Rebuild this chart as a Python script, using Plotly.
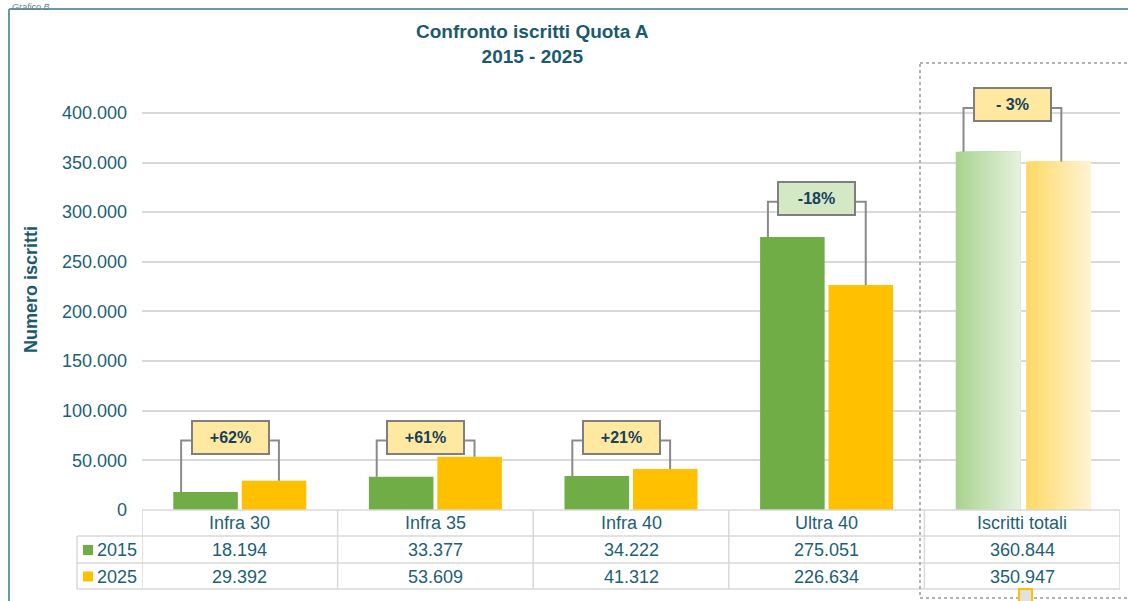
import plotly.graph_objects as go

# dati
categorie = ["Infra 30", "Infra 35", "Infra 40", "Ultra 40", "Iscritti totali"]
anni = ["2015", "2025"]
iscritti_2015 = [18194, 33377, 34222, 275051, 360844]
iscritti_2025 = [29392, 53609, 41312, 226634, 350947]
variazioni = ["+62%", "+61%", "+21%", "-18%", "- 3%"]
tick_y = [0, 50000, 100000, 150000, 200000, 250000, 300000, 350000, 400000]

VERDE = "#70ad47"
GIALLO = "#ffc000"
TESTO = "#215f76"
GRIGIO = "#d9d9d9"

# area del grafico in pixel
L, R, T, B = 142, 1120, 93, 510


def fx(p):
    return (p - L) / (R - L)


def fy(p):
    return (B - p) / (B - T)


def fmt(v):
    return f"{v:,}".replace(",", ".")


def mix(c1, c2, t):
    a = [int(c1[i:i + 2], 16) for i in (1, 3, 5)]
    b = [int(c2[i:i + 2], 16) for i in (1, 3, 5)]
    return "rgb(%d,%d,%d)" % tuple(round(a[j] + (b[j] - a[j]) * t) for j in range(3))


pos = list(range(len(categorie)))
w = 0.33
fig = go.Figure()

# barre "normali"
fig.add_trace(go.Bar(x=pos[:-1], y=iscritti_2015[:-1], width=w, offset=-w - 0.01,
                     marker=dict(color=VERDE, line=dict(width=0)), name=anni[0]))
fig.add_trace(go.Bar(x=pos[:-1], y=iscritti_2025[:-1], width=w, offset=0.01,
                     marker=dict(color=GIALLO, line=dict(width=0)), name=anni[1]))

# totali con sfumatura (strisce sovrapposte)
n = 20
for k in range(n):
    t = k / (n - 1)
    fig.add_trace(go.Bar(x=[pos[-1]], y=[iscritti_2015[-1]], width=[w * (1 - k / n)],
                         offset=[-w - 0.01 + w * k / n],
                         marker=dict(color=mix("#a9d490", "#e4f0dc", t), line=dict(width=0))))
    fig.add_trace(go.Bar(x=[pos[-1]], y=[iscritti_2025[-1]], width=[w * (1 - k / n)],
                         offset=[0.02 + w * k / n],
                         marker=dict(color=mix("#ffd966", "#fff3d1", t), line=dict(width=0))))

annotations = []
shapes = []

# parentesi con variazione percentuale
box_colori = ["#ffe8a0", "#ffe8a0", "#ffe8a0", "#d3e9c5", "#ffe8a0"]
for i in pos:
    a, b = iscritti_2015[i], iscritti_2025[i]
    livello = max(70000, max(a, b) * 1.1 + 8000)
    xl, xr = i - 0.30, i + 0.20
    fig.add_trace(go.Scatter(x=[xl, xl, xr, xr], y=[a, livello, livello, b], mode="lines",
                             line=dict(color="#8a8a8a", width=2), hoverinfo="skip"))
    annotations.append(dict(x=(xl + xr) / 2, y=livello + 3000, xref="x", yref="y",
                            text="<b>%s</b>" % variazioni[i], showarrow=False,
                            font=dict(family="Arial", size=16, color="#17405e"),
                            bgcolor=box_colori[i], bordercolor="#7f7f7f", borderwidth=2,
                            width=73, height=29, xanchor="center", yanchor="middle"))

# tabella dati sotto il grafico
righe = [510, 536, 563, 589]
for r in righe:
    shapes.append(dict(type="line", xref="paper", yref="paper", x0=fx(77 if r > 510 else L), x1=1,
                       y0=fy(r), y1=fy(r), line=dict(color=GRIGIO, width=1.5)))
for c in range(len(categorie) + 1):
    shapes.append(dict(type="line", xref="x", yref="paper", x0=c - 0.5, x1=c - 0.5,
                       y0=fy(510), y1=fy(589), line=dict(color=GRIGIO, width=1.5)))
shapes.append(dict(type="line", xref="paper", yref="paper", x0=fx(77), x1=fx(77),
                   y0=fy(536), y1=fy(589), line=dict(color=GRIGIO, width=1.5)))

font_tab = dict(family="Arial", size=18, color=TESTO)
for i in pos:
    annotations.append(dict(x=i, y=fy(523), xref="x", yref="paper", text=categorie[i],
                            showarrow=False, font=font_tab, yanchor="middle"))
    annotations.append(dict(x=i, y=fy(550), xref="x", yref="paper", text=fmt(iscritti_2015[i]),
                            showarrow=False, font=font_tab, yanchor="middle"))
    annotations.append(dict(x=i, y=fy(576.5), xref="x", yref="paper", text=fmt(iscritti_2025[i]),
                            showarrow=False, font=font_tab, yanchor="middle"))

for j, (anno, col) in enumerate(zip(anni, [VERDE, GIALLO])):
    yc = [550, 576.5][j]
    shapes.append(dict(type="rect", xref="paper", yref="paper", x0=fx(83), x1=fx(93),
                       y0=fy(yc - 5), y1=fy(yc + 5), fillcolor=col, line=dict(width=0)))
    annotations.append(dict(x=fx(95), y=fy(yc), xref="paper", yref="paper", text=anno,
                            showarrow=False, font=font_tab, xanchor="left", yanchor="middle"))

# titolo, titolo asse, etichetta
annotations.append(dict(x=fx(532), y=fy(44), xref="paper", yref="paper",
                        text="<b>Confronto iscritti Quota A<br>2015 - 2025</b>",
                        showarrow=False, font=dict(family="Arial", size=19, color="#1b5a6e"),
                        xanchor="center", yanchor="middle"))
annotations.append(dict(x=fx(31), y=fy(290), xref="paper", yref="paper",
                        text="<b>Numero iscritti</b>", textangle=-90, showarrow=False,
                        font=dict(family="Arial", size=18, color="#1b5a6e"),
                        xanchor="center", yanchor="middle"))
annotations.append(dict(x=fx(10), y=fy(0), xref="paper", yref="paper", text="<i>Grafico B</i>",
                        showarrow=False, font=dict(family="Arial", size=9, color="#5f7f8f"),
                        xanchor="left", yanchor="top"))

# cornice esterna, riquadro tratteggiato sui totali, maniglia
shapes.append(dict(type="line", xref="paper", yref="paper", x0=fx(9), x1=fx(9), y0=fy(9), y1=fy(610),
                   line=dict(color="#6a97aa", width=2)))
shapes.append(dict(type="line", xref="paper", yref="paper", x0=fx(9), x1=fx(1140), y0=fy(9), y1=fy(9),
                   line=dict(color="#6a97aa", width=2)))
shapes.append(dict(type="rect", xref="paper", yref="paper", x0=fx(920), x1=fx(1140), y0=fy(63), y1=fy(598),
                   line=dict(color="#9a9a9a", width=1.5, dash="dot")))
shapes.append(dict(type="rect", xref="paper", yref="paper", x0=fx(1019), x1=fx(1032), y0=fy(589), y1=fy(610),
                   fillcolor="#e0e0e0", line=dict(color=GIALLO, width=2)))

fig.update_layout(
    width=1128, height=601,
    margin=dict(l=L, r=1128 - R, t=T, b=601 - B),
    paper_bgcolor="white", plot_bgcolor="white",
    barmode="overlay", showlegend=False,
    separators=",.",
    font=dict(family="Arial", color=TESTO),
    annotations=annotations, shapes=shapes,
)
fig.update_xaxes(range=[-0.5, 4.5], showticklabels=False, showgrid=False, zeroline=False)
fig.update_yaxes(range=[0, 420000], tickvals=tick_y, tickformat=",d", showgrid=True,
                 gridcolor=GRIGIO, gridwidth=1.5, zeroline=False,
                 tickfont=dict(family="Arial", size=18, color=TESTO), ticklabelstandoff=14)

fig.write_html("out.html", config={"displayModeBar": False},
               post_script="document.body.style.margin='0';document.body.style.overflow='hidden';")
